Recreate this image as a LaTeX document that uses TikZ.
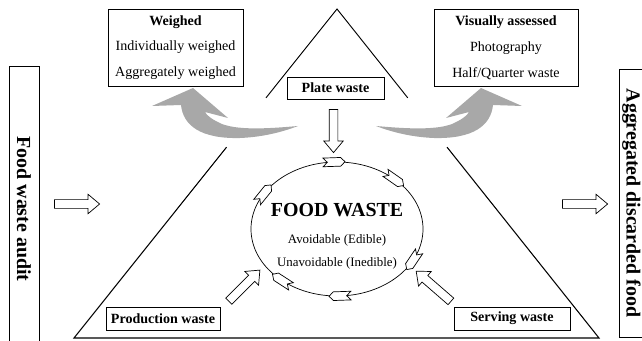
\documentclass[tikz,border=0pt]{standalone}
\usepackage{fontspec}
\setmainfont{Liberation Serif}
\usetikzlibrary{positioning, calc, shapes.geometric, shapes.arrows, shapes.symbols}
\definecolor{swoopGrey}{HTML}{A8A8A8}

\begin{document}
\begin{tikzpicture}[x=0.03cm, y=-0.03cm, font=\fontsize{12}{22}\selectfont, every node/.style={align=center},
    infobox/.style={draw, line width=0.8pt, inner sep=2pt},
    sidebox/.style={draw, line width=0.8pt, rotate=-90, font=\fontsize{17}{20}\selectfont\bfseries},
    hollowarrow/.style={single arrow, draw, line width=0.6pt, inner sep=0.12cm, minimum height=1.35cm, minimum width=0.56cm, single arrow head extend=0.16cm, single arrow tip angle=80},
    cyclearrow/.style={signal, draw, fill=white, line width=0.6pt, signal from=west, signal to=east, minimum width=0.66cm, minimum height=0.26cm, inner sep=0pt}]
    \useasboundingbox (0,0) rectangle (642,341);
    % side boxes
    \node[sidebox, minimum width=8.58cm, minimum height=0.9cm] (audit) at (24,209) {Food waste audit};
    \node[sidebox, minimum width=8.04cm, minimum height=0.72cm, inner sep=1pt] (discarded) at (631.5,203) {Aggregated discarded food};
    \node[hollowarrow] (auditin) at (74.5,204) {};
    \node[hollowarrow] (discardout) at (582.5,204) {};
    % big triangle, broken by the plate box and the swoops
    \coordinate (apex) at (337,9);
    \coordinate (botleft) at (74,338);
    \coordinate (botright) at (599,338);
    \draw[line width=0.8pt] ($(apex)!0.27!(botleft)$) -- (apex) -- ($(apex)!0.27!(botright)$);
    \draw[line width=0.9pt] ($(apex)!0.42!(botleft)$) -- (botleft) -- (botright) -- ($(apex)!0.42!(botright)$);
    % method boxes
    \node[infobox, minimum width=4.05cm, minimum height=2.31cm] (weighed) at (175.5,47.5) {\textbf{Weighed}\\Individually weighed\\Aggregately weighed};
    \node[infobox, minimum width=4.32cm, minimum height=2.31cm] (visual) at (506,47.5) {\textbf{Visually assessed}\\Photography\\Half/Quarter waste};
    % grey swoops
    \fill[swoopGrey] (193,88) -- (152,106) -- (181,105) .. controls (183,125) and (200,139) .. (240,138) .. controls (265,137) and (285,131) .. (298,126) .. controls (275,128) and (240,131) .. (222,124) .. controls (213,120) and (207,116) .. (205,112) -- (228,118) -- cycle;
    \begin{scope}[shift={(674,0)}, xscale=-1]
      \fill[swoopGrey] (193,88) -- (152,106) -- (181,105) .. controls (183,125) and (200,139) .. (240,138) .. controls (265,137) and (285,131) .. (298,126) .. controls (275,128) and (240,131) .. (222,124) .. controls (213,120) and (207,116) .. (205,112) -- (228,118) -- cycle;
    \end{scope}
    % waste stages
    \node[infobox, minimum width=2.91cm, minimum height=0.66cm] (plate) at (335.5,88) {\textbf{Plate waste}};
    \node[infobox, minimum width=3.42cm, minimum height=0.69cm] (production) at (163,318.5) {\textbf{Production waste}};
    \node[infobox, minimum width=3.48cm, minimum height=0.69cm] (serving) at (512,318.5) {\textbf{Serving waste}};
    \node[hollowarrow, rotate=-90, minimum height=1.29cm] (platein) at (333.5,128.5) {};
    \node[hollowarrow, rotate=45, minimum height=1.32cm] (productionin) at (242.5,287.5) {};
    \node[hollowarrow, rotate=139, minimum height=1.38cm] (servingin) at (435.5,288) {};
    % food waste cycle
    \node[draw, ellipse, line width=0.6pt, inner sep=0pt, minimum width=5.16cm, minimum height=4.02cm] (foodwaste) at (337,229) {};
    \foreach \t/\r [count=\i] in {92/2, 48/-35, -28/-124, -88/182, -130/147, 148/51}
      \node[cyclearrow, rotate=\r] (cycle\i) at ({337+86*cos(\t)}, {229-67*sin(\t)}) {};
    \node[font=\fontsize{17}{20}\selectfont\bfseries] (fwtitle) at (337,210) {FOOD WASTE};
    \node[font=\fontsize{11}{13}\selectfont] (edible) at (337,240) {Avoidable (Edible)};
    \node[font=\fontsize{11}{13}\selectfont] (inedible) at (337,263) {Unavoidable (Inedible)};
\end{tikzpicture}
\end{document}
